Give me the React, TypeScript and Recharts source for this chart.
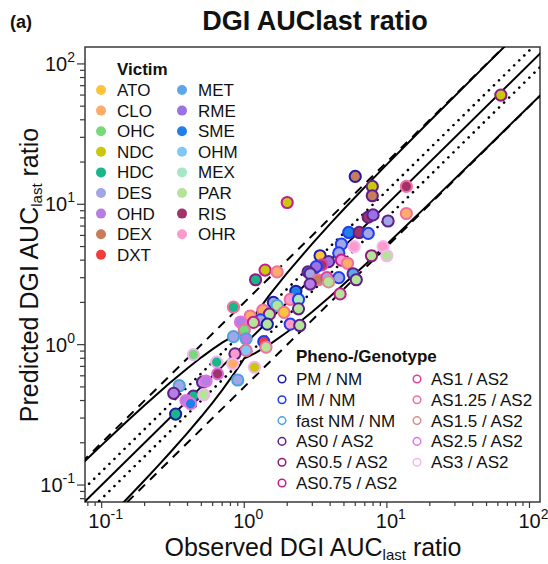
import React from 'react';
import { ScatterChart, Scatter, XAxis, YAxis, ReferenceArea } from 'recharts';

const FONT = '"Liberation Sans", Arial, Helvetica, sans-serif';

const victims = ['ATO', 'CLO', 'OHC', 'NDC', 'HDC', 'DES', 'OHD', 'DEX', 'DXT', 'MET', 'RME', 'SME', 'OHM', 'MEX', 'PAR', 'RIS', 'OHR'];
const victimColors = ['#fcc43a', '#fdac6a', '#78d97a', '#c9c80c', '#17b787', '#a1a7e6', '#b67ee2', '#c97c5c', '#f03c3c', '#5ba7ea', '#9a71e6', '#1f80e8', '#7dc8f8', '#a6e8c6', '#b5e39a', '#a1336b', '#fe9acb'];

const genotypes = ['PM / NM', 'IM / NM', 'fast NM / NM', 'AS0 / AS2', 'AS0.5 / AS2', 'AS0.75 / AS2', 'AS1 / AS2', 'AS1.25 / AS2', 'AS1.5 / AS2', 'AS2.5 / AS2', 'AS3 / AS2'];
const genotypeColors = ['#1c1ca8', '#1f3cf0', '#4ba3e0', '#5e2088', '#8c1a80', '#c21f8e', '#e0409c', '#f2709e', '#d49090', '#e272e2', '#f2b6f0'];

// observed / predicted DGI AUClast ratios
const observed = [63, 2.0, 6.0, 7.9, 7.9, 7.4, 8.0, 5.4, 6.4, 7.4, 4.8, 5.9, 7.8, 4.6, 3.4, 3.9, 4.8, 5.3, 3.5, 3.2, 2.8, 2.9, 3.3, 2.9, 3.8, 4.6, 5.8, 6.1, 3.9, 1.4, 1.7, 1.2, 2.3, 4.7, 2.1, 2.4, 1.6, 1.7, 1.9, 0.84, 1.35, 1.5, 2.4, 1.1, 1.3, 1.45, 0.94, 1.16, 2.1, 2.45, 1.0, 0.84, 1.03, 1.37, 1.42, 1.03, 0.86, 0.44, 0.64, 0.83, 1.18, 0.65, 0.9, 0.51, 0.54, 0.35, 0.32, 0.44, 0.52, 0.39, 0.42, 0.33, 13.7, 13.7, 10.2, 9.4, 10.0];
const predicted = [60, 10.3, 15.8, 13.4, 11.5, 8.1, 8.4, 6.3, 6.3, 6.2, 5.2, 5.0, 4.3, 4.5, 4.3, 3.9, 4.0, 3.8, 3.7, 3.6, 3.3, 3.2, 2.9, 2.7, 3.0, 3.0, 3.2, 2.9, 2.8, 3.4, 3.3, 2.9, 2.4, 2.3, 2.1, 2.1, 2.0, 1.9, 1.7, 1.85, 1.76, 1.65, 1.8, 1.6, 1.5, 1.4, 1.45, 1.44, 1.4, 1.37, 1.27, 1.14, 1.1, 1.05, 0.96, 0.91, 0.86, 0.85, 0.75, 0.73, 0.69, 0.62, 0.56, 0.54, 0.55, 0.51, 0.45, 0.43, 0.44, 0.4, 0.38, 0.32, 13.4, 8.6, 7.6, 5.0, 4.3];
const pointVictim = ['NDC', 'NDC', 'DEX', 'NDC', 'DEX', 'RIS', 'RME', 'SME', 'RIS', 'DES', 'DES', 'OHR', 'PAR', 'DES', 'ATO', 'RME', 'OHR', 'CLO', 'RIS', 'RME', 'SME', 'DES', 'DEX', 'OHD', 'DES', 'DES', 'MET', 'PAR', 'PAR', 'NDC', 'CLO', 'HDC', 'SME', 'PAR', 'OHR', 'MEX', 'DES', 'PAR', 'ATO', 'HDC', 'CLO', 'PAR', 'PAR', 'CLO', 'DES', 'PAR', 'OHD', 'PAR', 'OHR', 'PAR', 'OHC', 'DES', 'OHD', 'DXT', 'PAR', 'OHM', 'OHR', 'OHC', 'HDC', 'CLO', 'NDC', 'RIS', 'DES', 'DES', 'OHD', 'DES', 'OHD', 'HDC', 'PAR', 'OHD', 'SME', 'HDC', 'RIS', 'CLO', 'DES', 'OHR', 'PAR'];
const pointGenotype = ['AS0.5 / AS2', 'AS0.75 / AS2', 'PM / NM', 'AS0 / AS2', 'AS0 / AS2', 'AS0 / AS2', 'AS0 / AS2', 'IM / NM', 'AS0 / AS2', 'IM / NM', 'IM / NM', 'AS3 / AS2', 'AS0.5 / AS2', 'IM / NM', 'PM / NM', 'AS0 / AS2', 'AS0.75 / AS2', 'AS1.25 / AS2', 'AS1 / AS2', 'IM / NM', 'AS0 / AS2', 'AS0 / AS2', 'AS1.25 / AS2', 'AS0 / AS2', 'AS1 / AS2', 'IM / NM', 'AS0 / AS2', 'AS0 / AS2', 'AS1.5 / AS2', 'AS0.75 / AS2', 'AS1.25 / AS2', 'AS0.5 / AS2', 'PM / NM', 'AS0.75 / AS2', 'AS1.25 / AS2', 'IM / NM', 'PM / NM', 'fast NM / NM', 'AS1.25 / AS2', 'AS1.25 / AS2', 'AS1.25 / AS2', 'AS0.5 / AS2', 'AS0 / AS2', 'AS1.25 / AS2', 'IM / NM', 'PM / NM', 'AS2.5 / AS2', 'AS0.75 / AS2', 'IM / NM', 'AS0 / AS2', 'AS1.25 / AS2', 'fast NM / NM', 'fast NM / NM', 'IM / NM', 'AS1.25 / AS2', 'AS1.25 / AS2', 'AS0 / AS2', 'AS3 / AS2', 'AS3 / AS2', 'AS3 / AS2', 'AS3 / AS2', 'AS2.5 / AS2', 'fast NM / NM', 'AS0 / AS2', 'AS2.5 / AS2', 'fast NM / NM', 'AS0 / AS2', 'AS0 / AS2', 'AS3 / AS2', 'AS2.5 / AS2', 'AS2.5 / AS2', 'PM / NM', 'AS1.25 / AS2', 'AS1.25 / AS2', 'AS0 / AS2', 'AS3 / AS2', 'AS3 / AS2'];

const majorTicks = [0.1, 1, 10, 100];
const minorTicks = [0.08, 0.09, 0.2, 0.3, 0.4, 0.5, 0.6, 0.7, 0.8, 0.9, 2, 3, 4, 5, 6, 7, 8, 9, 20, 30, 40, 50, 60, 70, 80, 90];

// reference lines: identity, 1.25-fold (dotted), 2-fold (dashed)
const solidRatios = [1];
const dottedRatios = [1.25, 0.8];
const dashedRatios = [2, 0.5];
const lineEnds = [0.05, 200];

// Guest et al. limits (delta = 1.25)
const guestObs = [0.06, 0.076, 0.1, 0.12, 0.15, 0.2, 0.25, 0.3, 0.4, 0.5, 0.6, 0.7, 0.85, 0.9, 0.95, 1, 1.05, 1.1, 1.2, 1.5, 2, 3, 4, 5, 7, 10, 20, 50, 150];
const guestUpper = [0.1173, 0.1477, 0.1925, 0.2292, 0.2831, 0.37, 0.4531, 0.5325, 0.68, 0.8125, 0.93, 1.0325, 1.158, 1.1925, 1.2231, 1.25, 1.35, 1.45, 1.65, 2.25, 3.25, 5.25, 7.25, 9.25, 13.25, 19.25, 39.25, 99.25, 299.25];
const guestLower = [0.0307, 0.0391, 0.0519, 0.0628, 0.0795, 0.1081, 0.1379, 0.169, 0.2353, 0.3077, 0.3871, 0.4746, 0.6239, 0.6792, 0.7379, 0.8, 0.8167, 0.8345, 0.8727, 1.0, 1.2308, 1.7143, 2.2069, 2.7027, 3.698, 5.1948, 10.191, 25.189, 75.19];

const X_DOMAIN: [number, number] = [0.0764, 118.5];
const Y_DOMAIN: [number, number] = [0.0757, 132];
const AXIS = '#3a3a3a';

const points = observed.map((x, i) => ({
  x,
  y: predicted[i],
  fill: victimColors[victims.indexOf(pointVictim[i])],
  stroke: genotypeColors[genotypes.indexOf(pointGenotype[i])],
}));

const ratioLine = (r: number) => lineEnds.map((x) => ({ x, y: x * r }));
const guestUpperLine = guestObs.map((x, i) => ({ x, y: guestUpper[i] }));
const guestLowerLine = guestObs.map((x, i) => ({ x, y: guestLower[i] }));

const isMajor = (v: number) => Math.abs(Math.log10(v) - Math.round(Math.log10(v))) < 1e-6;

function XTick(props: any) {
  const { x, y, payload } = props;
  const v = payload.value;
  const major = isMajor(v);
  return (
    <g>
      <line x1={x} x2={x} y1={y} y2={y + (major ? 6 : 4)} stroke={AXIS} strokeWidth={1.2} />
      {major && (
        <text x={x + 4} y={y + 26} textAnchor="middle" fontFamily={FONT} fontSize={20} fill="#111">
          <tspan>10</tspan>
          <tspan dy={-9} fontSize={14}>{Math.round(Math.log10(v))}</tspan>
        </text>
      )}
    </g>
  );
}

function YTick(props: any) {
  const { x, y, payload } = props;
  const v = payload.value;
  const major = isMajor(v);
  return (
    <g>
      <line x1={x - (major ? 8 : 5)} x2={x} y1={y} y2={y} stroke={AXIS} strokeWidth={1.2} />
      {major && (
        <text x={x - 10} y={y + 7} textAnchor="end" fontFamily={FONT} fontSize={20} fill="#111">
          <tspan>10</tspan>
          <tspan dy={-9} fontSize={14}>{Math.round(Math.log10(v))}</tspan>
        </text>
      )}
    </g>
  );
}

const noDot = () => <g />;
const dot = (p: any) => (
  <circle cx={p.cx} cy={p.cy} r={5.6} fill={p.payload.fill} stroke={p.payload.stroke} strokeWidth={2} />
);

function Legends() {
  const rowV = 20.6;
  const rowG = 20.8;
  return (
    <svg width={548} height={564} style={{ position: 'absolute', left: 0, top: 0, pointerEvents: 'none' }} fontFamily={FONT}>
      <text x={10} y={28} fontSize={18} fontWeight="bold" fill="#111">(a)</text>
      <text x={315} y={30} fontSize={27} fontWeight="bold" textAnchor="middle" fill="#111">DGI AUClast ratio</text>

      <text x={313} y={556} fontSize={25} textAnchor="middle" fill="#111">
        <tspan>Observed DGI AUC</tspan>
        <tspan fontSize={15} dy={4}>last</tspan>
        <tspan dy={-4}> ratio</tspan>
      </text>
      <text transform="translate(38 275) rotate(-90)" fontSize={25} textAnchor="middle" fill="#111">
        <tspan>Predicted DGI AUC</tspan>
        <tspan fontSize={15} dy={4}>last</tspan>
        <tspan dy={-4}> ratio</tspan>
      </text>

      <text x={117} y={75} fontSize={17} fontWeight="bold" fill="#111">Victim</text>
      {victims.map((v, i) => {
        const col = i < 9 ? 0 : 1;
        const row = i < 9 ? i : i - 9;
        const cy = 90 + row * rowV;
        const cx = col === 0 ? 101 : 182;
        return (
          <g key={v}>
            <circle cx={cx} cy={cy} r={5} fill={victimColors[i]} />
            <text x={cx + 16} y={cy + 6} fontSize={17} fill="#111">{v}</text>
          </g>
        );
      })}

      <text x={296} y={362} fontSize={17} fontWeight="bold" fill="#111">Pheno-/Genotype</text>
      {genotypes.map((g, i) => {
        const col = i < 6 ? 0 : 1;
        const row = i < 6 ? i : i - 6;
        const cy = 379 + row * rowG;
        const cx = col === 0 ? 282 : 417;
        return (
          <g key={g}>
            <circle cx={cx} cy={cy} r={3.8} fill="none" stroke={genotypeColors[i]} strokeWidth={1.5} />
            <text x={cx + 14} y={cy + 6} fontSize={17} fill="#111">{g}</text>
          </g>
        );
      })}
    </svg>
  );
}

export default function App() {
  return (
    <div style={{ position: 'absolute', left: 0, top: 0, width: 548, height: 564, background: '#fff' }}>
      <ScatterChart width={548} height={564} margin={{ top: 47, right: 8, bottom: 2, left: 5 }}>
        <XAxis
          type="number"
          dataKey="x"
          scale="log"
          domain={X_DOMAIN}
          allowDataOverflow
          ticks={[...majorTicks, ...minorTicks]}
          interval={0}
          tick={<XTick />}
          tickLine={false}
          tickSize={0}
          tickMargin={0}
          axisLine={false}
          height={60}
        />
        <YAxis
          type="number"
          dataKey="y"
          scale="log"
          domain={Y_DOMAIN}
          allowDataOverflow
          ticks={[...majorTicks, ...minorTicks]}
          interval={0}
          tick={<YTick />}
          tickLine={false}
          tickSize={0}
          tickMargin={0}
          axisLine={false}
          width={80}
        />
        <ReferenceArea x1={X_DOMAIN[0]} x2={X_DOMAIN[1]} y1={Y_DOMAIN[0]} y2={Y_DOMAIN[1]} fill="none" stroke={AXIS} strokeWidth={1.5} fillOpacity={0} />
        {dashedRatios.map((r) => (
          <Scatter key={`d${r}`} data={ratioLine(r)} shape={noDot} isAnimationActive={false}
            line={{ stroke: '#000', strokeWidth: 2, strokeDasharray: '9 7' }} />
        ))}
        {dottedRatios.map((r) => (
          <Scatter key={`o${r}`} data={ratioLine(r)} shape={noDot} isAnimationActive={false}
            line={{ stroke: '#000', strokeWidth: 2.6, strokeDasharray: '0.1 7', strokeLinecap: 'round' }} />
        ))}
        {solidRatios.map((r) => (
          <Scatter key={`s${r}`} data={ratioLine(r)} shape={noDot} isAnimationActive={false}
            line={{ stroke: '#000', strokeWidth: 2 }} />
        ))}
        <Scatter data={guestUpperLine} shape={noDot} isAnimationActive={false} line={{ stroke: '#000', strokeWidth: 2 }} />
        <Scatter data={guestLowerLine} shape={noDot} isAnimationActive={false} line={{ stroke: '#000', strokeWidth: 2 }} />
        <Scatter data={points} shape={dot} isAnimationActive={false} />
      </ScatterChart>
      <Legends />
    </div>
  );
}
